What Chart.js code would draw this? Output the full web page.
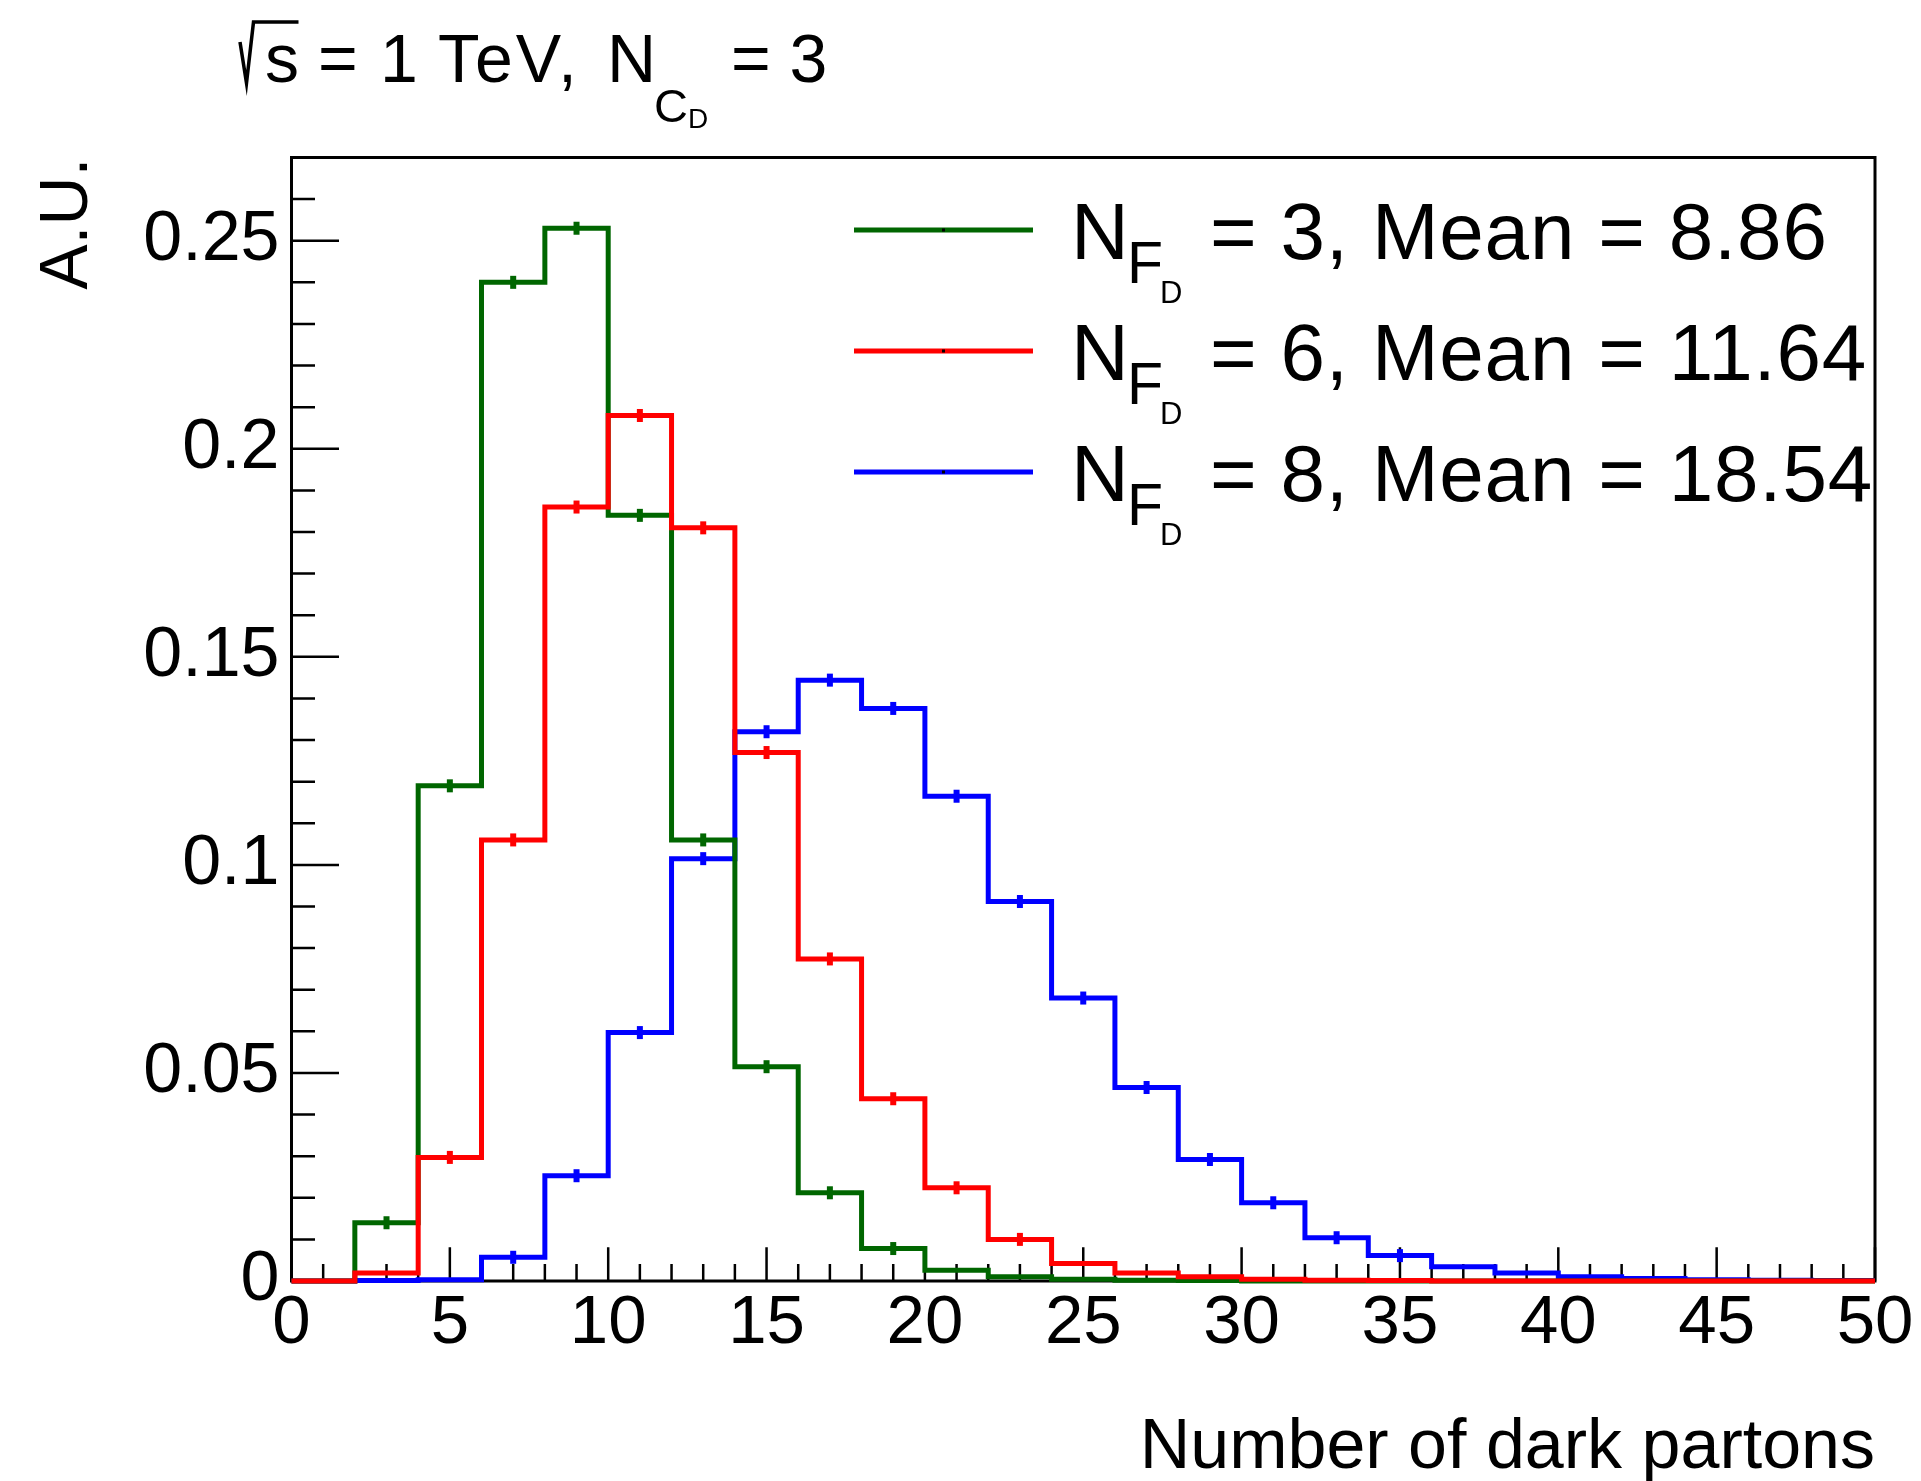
<!DOCTYPE html>
<html>
<head>
<meta charset="utf-8">
<script src="https://cdn.jsdelivr.net/npm/chart.js@4.4.1/dist/chart.umd.min.js"></script>
<style>
  html, body { margin: 0; padding: 0; background: #fff; overflow: hidden; }
  #wrap { width: 1921px; height: 1481px; position: relative; }
</style>
</head>
<body>
<div id="wrap"><canvas id="myChart"></canvas></div>
<script>
// bin edges of the histogram (2 partons per bin)
const binEdges = [0, 2, 4, 6, 8, 10, 12, 14, 16, 18, 20, 22, 24, 26, 28, 30, 32, 34, 36, 38, 40, 42, 44, 46, 48, 50];

// one value per bin
const nf3Values = [0, 0.0140, 0.119, 0.240, 0.253, 0.184, 0.106, 0.0515, 0.0212, 0.0078, 0.0026, 0.0010, 0.0004, 0.0002, 0.0001,
                   0, 0, 0, 0, 0, 0, 0, 0, 0, 0];
const nf6Values = [0, 0.0019, 0.0297, 0.106, 0.186, 0.208, 0.181, 0.127, 0.0774, 0.0438, 0.0224, 0.0100, 0.0042, 0.0019, 0.0010,
                   0.0004, 0.0002, 0.0001, 0, 0, 0, 0, 0, 0, 0];
const nf8Values = [0, 0.0001, 0.0003, 0.0057, 0.0253, 0.0597, 0.1015, 0.132, 0.1444, 0.1376, 0.1165, 0.0912, 0.068, 0.0465, 0.0292,
                   0.0188, 0.0104, 0.0061, 0.0034, 0.0019, 0.0010, 0.0006, 0.0003, 0.0002, 0.0001];

const nfLabels = ["3", "6", "8"];
const nfMeans = ["8.86", "11.64", "18.54"];

const xTicks = [0, 5, 10, 15, 20, 25, 30, 35, 40, 45, 50];
const yTicks = [0, 0.05, 0.1, 0.15, 0.2, 0.25];

const FONT = "'Liberation Sans', Arial, Helvetica, sans-serif";
const GREEN = '#006600', RED = '#ff0000', BLUE = '#0000ff';

function histPoints(values) {
    // last edge repeats last bin so the step closes at x = 50
    return binEdges.map((x, i) => ({ x: x, y: values[Math.min(i, values.length - 1)] }));
}

function histSet(values, color) {
    return {
        data: histPoints(values),
        values: values,
        borderColor: color,
        backgroundColor: color,
        borderWidth: 5,
        stepped: 'before',
        pointRadius: 0,
        fill: false,
        clip: 10
    };
}

// frame + ROOT style inward ticks
const framePlugin = {
    id: 'frame',
    beforeDatasetsDraw(chart) {
        const { ctx, chartArea: a, scales } = chart;
        ctx.save();
        ctx.strokeStyle = '#000';
        ctx.lineWidth = 2.5;
        ctx.beginPath();
        for (let v = 0; v <= 50; v += 1) {
            const px = scales.x.getPixelForValue(v);
            const len = v % 5 === 0 ? 33.7 : 17;
            ctx.moveTo(px, a.bottom);
            ctx.lineTo(px, a.bottom - len);
        }
        for (let k = 0; k <= 27; k++) {
            const py = scales.y.getPixelForValue(k / 100);
            const len = k % 5 === 0 ? 47.5 : 23.5;
            ctx.moveTo(a.left, py);
            ctx.lineTo(a.left + len, py);
        }
        ctx.stroke();
        ctx.lineWidth = 3;
        ctx.strokeRect(a.left, a.top, a.right - a.left, a.bottom - a.top);
        ctx.restore();
    },
    afterDatasetsDraw(chart) {
        // small error marks at bin centres
        const { ctx, scales } = chart;
        ctx.save();
        chart.data.datasets.forEach(ds => {
            ctx.fillStyle = ds.borderColor;
            ds.values.forEach((v, i) => {
                if (v < 0.005) return;
                const cx = scales.x.getPixelForValue((binEdges[i] + binEdges[i + 1]) / 2);
                const cy = scales.y.getPixelForValue(v);
                ctx.fillRect(cx - 3, cy - 6.5, 6, 13);
            });
        });
        ctx.restore();
    }
};

function txt(ctx, s, x, y, size, spacing) {
    ctx.font = size + 'px ' + FONT;
    ctx.letterSpacing = (spacing || 0) + 'px';
    ctx.fillText(s, x, y);
    ctx.letterSpacing = '0px';
}

const textPlugin = {
    id: 'texts',
    afterDraw(chart) {
        const ctx = chart.ctx;
        ctx.save();
        ctx.fillStyle = '#000';
        ctx.textAlign = 'left';
        ctx.textBaseline = 'alphabetic';

        // title: sqrt(s) = 1 TeV, N_{C_D} = 3
        ctx.strokeStyle = '#000';
        ctx.lineWidth = 3.5;
        ctx.beginPath();
        ctx.moveTo(240, 42);
        ctx.lineTo(246.5, 83);
        ctx.lineTo(253.5, 22);
        ctx.lineTo(298.5, 22);
        ctx.stroke();
        txt(ctx, 's', 265, 82, 68);
        txt(ctx, '=', 318, 82, 68);
        txt(ctx, '1', 380, 82, 68);
        txt(ctx, 'TeV,', 438, 82, 68, 3);
        txt(ctx, 'N', 607, 82, 68);
        txt(ctx, 'C', 654, 122, 47);
        txt(ctx, 'D', 688, 128, 28);
        txt(ctx, '= 3', 731, 82, 68);

        // legend
        const colors = [GREEN, RED, BLUE];
        nfLabels.forEach((lab, i) => {
            const b = 259 + i * 121;
            ctx.strokeStyle = colors[i];
            ctx.lineWidth = 5;
            ctx.beginPath();
            ctx.moveTo(854, b - 29);
            ctx.lineTo(1033, b - 29);
            ctx.stroke();
            ctx.fillStyle = '#000';
            ctx.fillRect(942, b - 30.5, 3, 3);
            txt(ctx, 'N', 1071, b, 80);
            txt(ctx, 'F', 1127, b + 24, 59);
            txt(ctx, 'D', 1160, b + 44, 31);
            txt(ctx, '= ' + lab + ', Mean = ' + nfMeans[i], 1210, b, 80, 0.8);
        });

        // axis titles
        ctx.textAlign = 'right';
        txt(ctx, 'Number of dark partons', 1875, 1468, 70);
        ctx.translate(87, 157.5);
        ctx.rotate(-Math.PI / 2);
        txt(ctx, 'A.U.', 0, 0, 68);
        ctx.restore();
    }
};

const CHART = document.getElementById('myChart');
const histChart = new Chart(CHART, {
    type: 'line',
    data: {
        // red drawn on top, blue at the bottom
        datasets: [
            histSet(nf6Values, RED),
            histSet(nf3Values, GREEN),
            histSet(nf8Values, BLUE)
        ]
    },
    plugins: [framePlugin, textPlugin],
    options: {
        responsive: true,
        maintainAspectRatio: false,
        animation: false,
        layout: { padding: { left: 0, top: 157.5, right: 46, bottom: 0 } },
        plugins: {
            legend: { display: false },
            tooltip: { enabled: false },
            title: { display: false }
        },
        scales: {
            x: {
                type: 'linear',
                min: 0,
                max: 50,
                afterFit: s => { s.height = 200; },
                afterBuildTicks: s => { s.ticks = xTicks.map(v => ({ value: v })); },
                grid: { display: false, drawTicks: false, tickLength: 0 },
                border: { display: false },
                ticks: {
                    autoSkip: false,
                    maxRotation: 0,
                    padding: 2,
                    color: '#000',
                    font: { family: FONT, size: 69 },
                    callback: v => String(v)
                }
            },
            y: {
                type: 'linear',
                min: 0,
                max: 0.27,
                afterFit: s => { s.width = 291.5; },
                afterBuildTicks: s => { s.ticks = yTicks.map(v => ({ value: v })); },
                grid: { display: false, drawTicks: false, tickLength: 0 },
                border: { display: false },
                ticks: {
                    padding: 12,
                    color: '#000',
                    font: { family: FONT, size: 70 },
                    callback: v => String(Math.round(v * 100) / 100)
                }
            }
        }
    }
});
</script>
</body>
</html>
